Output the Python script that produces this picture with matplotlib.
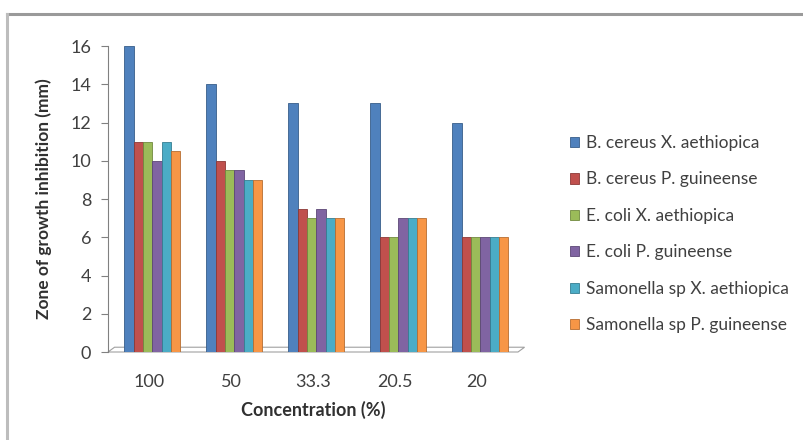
import matplotlib
matplotlib.use("Agg")
import matplotlib.pyplot as plt
import numpy as np
from matplotlib.lines import Line2D
from matplotlib.patches import Polygon

plt.rcParams['font.family'] = ['Lato', 'DejaVu Sans']

categories = ["100", "50", "33.3", "20.5", "20"]
series_names = ["B. cereus X. aethiopica", "B. cereus P. guineense",
                "E. coli X. aethiopica", "E. coli P. guineense",
                "Samonella sp X. aethiopica", "Samonella sp P. guineense"]
bc_xa = [16, 14, 13, 13, 12]
bc_pg = [11, 10, 7.5, 6, 6]
ec_xa = [11, 9.5, 7, 6, 6]
ec_pg = [10, 9.5, 7.5, 7, 6]
sa_xa = [11, 9, 7, 7, 6]
sa_pg = [10.5, 9, 7, 7, 6]
series = [bc_xa, bc_pg, ec_xa, ec_pg, sa_xa, sa_pg]
colors = ["#4F81BD", "#C0504D", "#9BBB59", "#8064A2", "#4BACC6", "#F79646"]
edges = ["#385D8A", "#8C3836", "#71893F", "#5C4776", "#357D91", "#B66D31"]
yticks = [0, 2, 4, 6, 8, 10, 12, 14, 16]

fig = plt.figure(figsize=(8.04, 4.4), dpi=100)
fig.patch.set_facecolor("white")
# outer frame
fig.add_artist(Line2D([7/804, 1.0], [1 - 14/440, 1 - 14/440], color="#9a9a9a", lw=2.2, transform=fig.transFigure))
fig.add_artist(Line2D([7/804, 7/804], [0, 1 - 14/440], color="#bdbdbd", lw=2.2, transform=fig.transFigure))

ax = fig.add_axes([108/804, 1 - 352/440, (518 - 108)/804, (352 - 46)/440])
x = np.arange(len(categories))
n = len(series)
gw = 0.68
bw = gw / n
for i, (vals, c, ec, name) in enumerate(zip(series, colors, edges, series_names)):
    pos = x - gw / 2 + 0.04 + bw * (i + 0.5)
    ax.bar(pos, vals, width=bw, color=c, edgecolor=ec, linewidth=0.6, label=name, zorder=3)

ax.set_xlim(-0.5, len(categories) - 0.5)
ax.set_ylim(0, 16)
ax.set_yticks(yticks)
ax.set_xticks(x)
ax.set_xticklabels(categories, fontsize=13, color="#404040")
ax.tick_params(axis='y', labelsize=13, labelcolor="#404040", length=5, color="#808080",
               direction='out', pad=7)
ax.tick_params(axis='x', length=0, pad=16)
for s in ["top", "right", "bottom"]:
    ax.spines[s].set_visible(False)
ax.spines["left"].set_color("#808080")

# 3D floor
floor = Polygon([[-0.5, 0], [-0.42, 0.25], [4.58, 0.25], [4.5, 0]], closed=True,
                facecolor="white", edgecolor="#a0a0a0", lw=0.8, zorder=1, clip_on=False)
ax.add_patch(floor)

ax.set_ylabel("Zone of growth inhibition (mm)", fontsize=12.5, fontweight="bold", color="#303030", labelpad=13)
ax.set_xlabel("Concentration (%)", fontsize=13, fontweight="bold", color="#303030", labelpad=8)

leg = fig.legend(loc="upper left", bbox_to_anchor=(563/804, 1 - 128/440), frameon=False,
                 fontsize=12.5, handlelength=0.55, handleheight=0.55, handletextpad=0.35,
                 labelspacing=1.18, borderaxespad=0)
for t in leg.get_texts():
    t.set_color("#404040")

fig.savefig("out.png", dpi=100, facecolor="white")
